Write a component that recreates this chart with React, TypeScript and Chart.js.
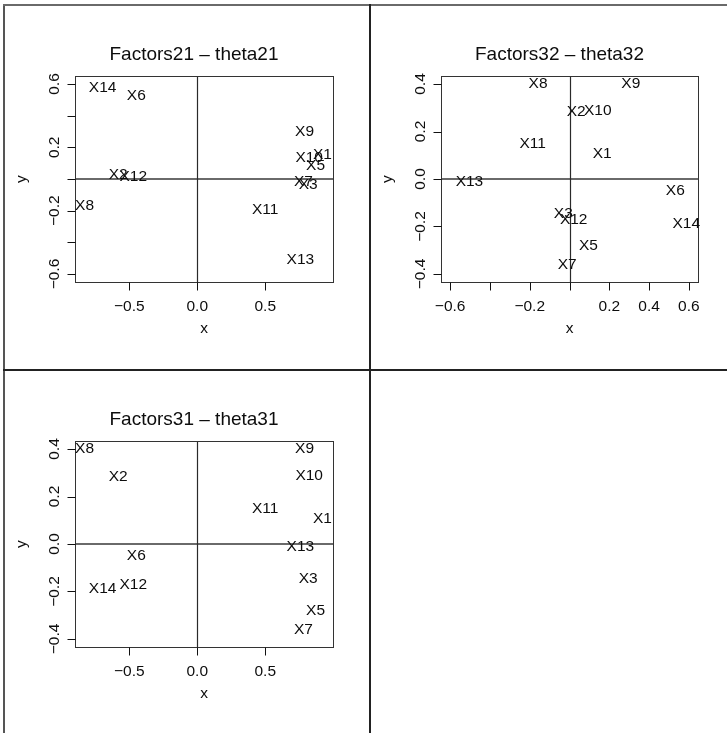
import React, { useEffect, useRef } from "react";
import { Chart, registerables } from "chart.js";

Chart.register(...registerables);

// ---- data ----
const variables = ["X1", "X2", "X3", "X5", "X6", "X7", "X8", "X9", "X10", "X11", "X12", "X13", "X14"];
const factor1 = [0.92, -0.581, 0.815, 0.87, -0.448, 0.781, -0.829, 0.789, 0.823, 0.499, -0.471, 0.758, -0.696];
const factor2 = [0.164, 0.034, -0.031, 0.095, 0.532, -0.012, -0.158, 0.308, 0.142, -0.185, 0.021, -0.503, 0.587];
const factor3 = [0.11, 0.288, -0.139, -0.275, -0.042, -0.356, 0.407, 0.407, 0.291, 0.154, -0.165, -0.008, -0.185];

const panelTitles = ["Factors21 \u2013 theta21", "Factors32 \u2013 theta32", "Factors31 \u2013 theta31"];
const axisTitleX = "x";
const axisTitleY = "y";

const limitsWideX = [-0.899, 0.998];
const limitsWideY = [-0.6505, 0.6505];
const limitsNarrowX = [-0.646, 0.646];
const limitsNarrowY = [-0.4337, 0.4337];

const ticksWideX = [-0.5, 0, 0.5];
const tickLabelsWideX = ["\u22120.5", "0.0", "0.5"];
const ticksWideY = [-0.6, -0.4, -0.2, 0, 0.2, 0.4, 0.6];
const tickLabelsWideY = ["\u22120.6", "", "\u22120.2", "", "0.2", "", "0.6"];
const ticksNarrowX = [-0.6, -0.4, -0.2, 0, 0.2, 0.4, 0.6];
const tickLabelsNarrowX = ["\u22120.6", "", "\u22120.2", "", "0.2", "0.4", "0.6"];
const ticksNarrowY = [-0.4, -0.2, 0, 0.2, 0.4];
const tickLabelsNarrowY = ["\u22120.4", "\u22120.2", "0.0", "0.2", "0.4"];

const FONT = "'Liberation Sans', Arial, Helvetica, sans-serif";
const LABEL_SIZE = 15.5;
const TITLE_SIZE = 19;
const TEXT_COLOR = "#0d0d0d";

const rPlot = {
  id: "rPlot",
  afterDatasetsDraw(chart: any, _args: any, opts: any) {
    const { ctx, chartArea: a, scales } = chart;
    const xs = scales.x;
    const ys = scales.y;
    ctx.save();

    // zero lines
    const x0 = xs.getPixelForValue(0);
    const y0 = ys.getPixelForValue(0);
    ctx.strokeStyle = "#6a6a6a";
    ctx.lineWidth = 2;
    ctx.beginPath();
    ctx.moveTo(a.left, Math.round(y0));
    ctx.lineTo(a.right, Math.round(y0));
    ctx.stroke();
    ctx.strokeStyle = "#2a2a2a";
    ctx.lineWidth = 1.2;
    ctx.beginPath();
    ctx.moveTo(Math.round(x0) + 0.5, a.top);
    ctx.lineTo(Math.round(x0) + 0.5, a.bottom);
    ctx.stroke();

    // box
    ctx.strokeStyle = "#333";
    ctx.lineWidth = 1;
    ctx.strokeRect(
      Math.round(a.left) + 0.5,
      Math.round(a.top) + 0.5,
      Math.round(a.right - a.left),
      Math.round(a.bottom - a.top)
    );

    // ticks
    ctx.strokeStyle = "#111";
    ctx.lineWidth = 1;
    const tl = 8;
    ctx.beginPath();
    opts.xTicks.forEach((v: number) => {
      const px = Math.round(xs.getPixelForValue(v)) + 0.5;
      ctx.moveTo(px, Math.round(a.bottom) + 0.5);
      ctx.lineTo(px, Math.round(a.bottom) + 0.5 + tl);
    });
    opts.yTicks.forEach((v: number) => {
      const py = Math.round(ys.getPixelForValue(v)) + 0.5;
      ctx.moveTo(Math.round(a.left) + 0.5 - tl, py);
      ctx.lineTo(Math.round(a.left) + 0.5, py);
    });
    ctx.stroke();

    ctx.fillStyle = TEXT_COLOR;
    ctx.font = `${LABEL_SIZE}px ${FONT}`;
    ctx.textAlign = "center";
    ctx.textBaseline = "alphabetic";
    opts.xTicks.forEach((v: number, i: number) => {
      const lab = opts.xTickLabels[i];
      if (!lab) return;
      ctx.fillText(lab, xs.getPixelForValue(v), a.bottom + 29);
    });
    opts.yTicks.forEach((v: number, i: number) => {
      const lab = opts.yTickLabels[i];
      if (!lab) return;
      ctx.save();
      ctx.translate(a.left - 16, ys.getPixelForValue(v));
      ctx.rotate(-Math.PI / 2);
      ctx.fillText(lab, 0, 0);
      ctx.restore();
    });

    // axis titles
    ctx.fillText(opts.xTitle, (a.left + a.right) / 2, a.bottom + 51);
    ctx.save();
    ctx.translate(a.left - 49, (a.top + a.bottom) / 2);
    ctx.rotate(-Math.PI / 2);
    ctx.fillText(opts.yTitle, 0, 0);
    ctx.restore();

    // main title
    ctx.font = `${TITLE_SIZE}px ${FONT}`;
    ctx.fillText(opts.title, (a.left + a.right) / 2 - 10, a.top - 16);

    // point labels
    ctx.font = `${LABEL_SIZE}px ${FONT}`;
    const meta = chart.getDatasetMeta(0);
    meta.data.forEach((el: any, i: number) => {
      ctx.fillText(opts.labels[i], el.x, el.y + 0.358 * LABEL_SIZE);
    });

    ctx.restore();
  },
};

type PanelProps = {
  xValues: number[];
  yValues: number[];
  xLimits: number[];
  yLimits: number[];
  xTicks: number[];
  xTickLabels: string[];
  yTicks: number[];
  yTickLabels: string[];
  title: string;
  left: number;
  top: number;
  width: number;
  height: number;
  padding: { left: number; top: number; right: number; bottom: number };
};

function Panel(p: PanelProps) {
  const ref = useRef<HTMLCanvasElement | null>(null);
  useEffect(() => {
    if (!ref.current) return;
    const chart = new Chart(ref.current, {
      type: "scatter",
      data: {
        datasets: [
          {
            data: p.xValues.map((x, i) => ({ x, y: p.yValues[i] })),
            pointRadius: 0,
            pointHoverRadius: 0,
          },
        ],
      },
      options: {
        responsive: false,
        maintainAspectRatio: false,
        animation: false,
        devicePixelRatio: 1,
        events: [],
        layout: { padding: p.padding },
        plugins: {
          legend: { display: false },
          tooltip: { enabled: false },
          rPlot: {
            labels: variables,
            xTicks: p.xTicks,
            xTickLabels: p.xTickLabels,
            yTicks: p.yTicks,
            yTickLabels: p.yTickLabels,
            title: p.title,
            xTitle: axisTitleX,
            yTitle: axisTitleY,
          },
        } as any,
        scales: {
          x: { type: "linear", display: false, min: p.xLimits[0], max: p.xLimits[1] },
          y: { type: "linear", display: false, min: p.yLimits[0], max: p.yLimits[1] },
        },
      },
      plugins: [rPlot],
    });
    return () => chart.destroy();
  }, []);
  return (
    <canvas
      ref={ref}
      width={p.width}
      height={p.height}
      style={{ position: "absolute", left: p.left, top: p.top, width: p.width, height: p.height }}
    />
  );
}

export default function App() {
  return (
    <div
      style={{
        position: "absolute",
        left: 0,
        top: 0,
        width: 727,
        height: 733,
        background: "#fff",
        overflow: "hidden",
      }}
    >
      <Panel
        xValues={factor1}
        yValues={factor2}
        xLimits={limitsWideX}
        yLimits={limitsWideY}
        xTicks={ticksWideX}
        xTickLabels={tickLabelsWideX}
        yTicks={ticksWideY}
        yTickLabels={tickLabelsWideY}
        title={panelTitles[0]}
        left={0}
        top={0}
        width={369}
        height={369}
        padding={{ left: 75, top: 76, right: 36, bottom: 87 }}
      />
      <Panel
        xValues={factor2}
        yValues={factor3}
        xLimits={limitsNarrowX}
        yLimits={limitsNarrowY}
        xTicks={ticksNarrowX}
        xTickLabels={tickLabelsNarrowX}
        yTicks={ticksNarrowY}
        yTickLabels={tickLabelsNarrowY}
        title={panelTitles[1]}
        left={371}
        top={0}
        width={356}
        height={369}
        padding={{ left: 70, top: 76, right: 29, bottom: 87 }}
      />
      <Panel
        xValues={factor1}
        yValues={factor3}
        xLimits={limitsWideX}
        yLimits={limitsNarrowY}
        xTicks={ticksWideX}
        xTickLabels={tickLabelsWideX}
        yTicks={ticksNarrowY}
        yTickLabels={tickLabelsNarrowY}
        title={panelTitles[2]}
        left={0}
        top={371}
        width={369}
        height={362}
        padding={{ left: 75, top: 70, right: 36, bottom: 86 }}
      />
      {/* cell frame lines */}
      <div style={{ position: "absolute", left: 3, top: 4, width: 2, height: 729, background: "#555" }} />
      <div style={{ position: "absolute", left: 3, top: 4, width: 724, height: 2, background: "#6a6a6a" }} />
      <div style={{ position: "absolute", left: 369, top: 4, width: 2, height: 729, background: "#222" }} />
      <div style={{ position: "absolute", left: 3, top: 369, width: 724, height: 2, background: "#222" }} />
    </div>
  );
}
